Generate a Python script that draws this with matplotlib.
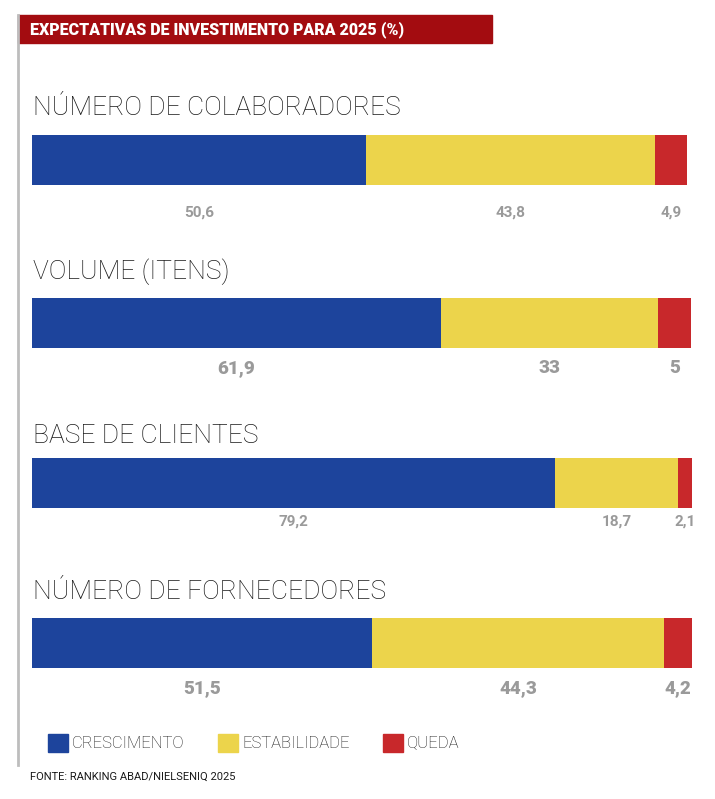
import matplotlib.pyplot as plt
from matplotlib.patches import Rectangle

W, H = 715, 799
categorias = ["NÚMERO DE COLABORADORES", "VOLUME (ITENS)", "BASE DE CLIENTES", "NÚMERO DE FORNECEDORES"]
crescimento = [50.6, 61.9, 79.2, 51.5]
estabilidade = [43.8, 33, 18.7, 44.3]
queda = [4.9, 5, 2.1, 4.2]
series = ["CRESCIMENTO", "ESTABILIDADE", "QUEDA"]
cores = ["#1d449c", "#ecd44b", "#c8282b"]

# layout per panel: title y, bar top, label y, label size, bold
bar_top = [135, 298, 458, 618]
title_y = [108, 272, 436, 592]
label_y = [213, 368, 522, 688]
label_fs = [11, 13.5, 11, 13.5]
label_bold = ["bold", "heavy", "bold", "heavy"]
bar_h = 50

fig = plt.figure(figsize=(W / 100, H / 100), dpi=100)
ax = fig.add_axes([32 / W, 0, 660 / W, 1])
ax.set_xlim(0, 100)
ax.set_ylim(H, 0)
ax.axis("off")

def fx(px):
    return px / W

def fy(py):
    return 1 - py / H

for i, cat in enumerate(categorias):
    vals = [crescimento[i], estabilidade[i], queda[i]]
    left = 0
    for v, c in zip(vals, cores):
        ax.barh(bar_top[i] + bar_h / 2, v, left=left, height=bar_h, color=c)
        lab = ("%g" % v).replace(".", ",")
        ax.text(left + v / 2, label_y[i], lab, ha="center", va="center",
                fontsize=label_fs[i], fontweight=label_bold[i], color="#9a9a9a",
                family="Roboto")
        left += v
    fig.text(fx(33), fy(title_y[i]), cat, ha="left", va="center", fontsize=19,
             color="#1a1a1a", family="Roboto", fontweight="light")

# header
fig.patches.append(Rectangle((fx(18), fy(43)), fx(492) - fx(18), fy(15) - fy(43),
                             transform=fig.transFigure, color="#a30c10"))
fig.text(fx(30), fy(30), "EXPECTATIVAS DE INVESTIMENTO PARA 2025 (%)", ha="left",
         va="center", fontsize=11.5, color="white", fontweight="heavy", family="Roboto")
fig.add_artist(plt.Line2D([fx(18), fx(18)], [fy(15), fy(765)], color="#bdbdbd", lw=2))

# legend
lx = [48, 218, 383]
for x, s, c in zip(lx, series, cores):
    fig.patches.append(Rectangle((fx(x), fy(752)), 20 / W, 18 / H,
                                 transform=fig.transFigure, color=c))
    fig.text(fx(x + 24), fy(744), s, ha="left", va="center", fontsize=12,
             color="#1a1a1a", family="Roboto", fontweight="light")

fig.text(fx(30), fy(777), "FONTE: RANKING ABAD/NIELSENIQ 2025", ha="left", va="center",
         fontsize=8, color="#1a1a1a", family="Roboto")

fig.savefig("out.png", dpi=100)
